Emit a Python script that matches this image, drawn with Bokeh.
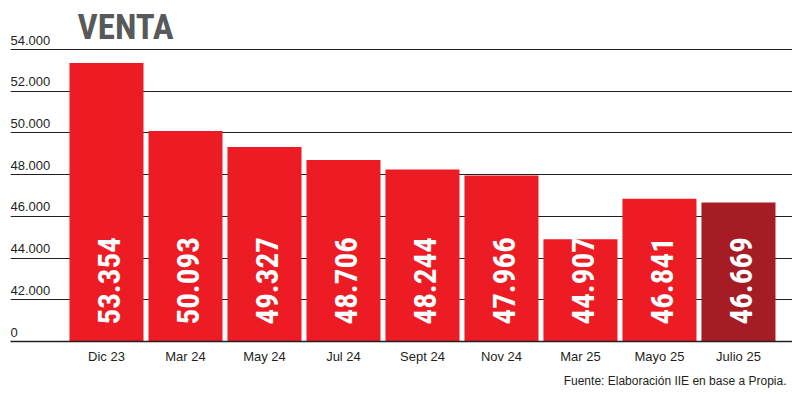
import numpy as np
from bokeh.plotting import figure
from bokeh.models import Range1d, FixedTicker, Label, Title
from bokeh.core.properties import value
from bokeh.embed import file_html
from bokeh.resources import INLINE

categories = ["Dic 23", "Mar 24", "May 24", "Jul 24", "Sept 24", "Nov 24", "Mar 25", "Mayo 25", "Julio 25"]
ventas = [53354, 50093, 49327, 48706, 48244, 47966, 44907, 46841, 46669]
value_labels = ["53.354", "50.093", "49.327", "48.706", "48.244", "47.966", "44.907", "46.841", "46.669"]
y_ticks = [40000, 42000, 44000, 46000, 48000, 50000, 52000, 54000]
y_tick_labels = ["0", "42.000", "44.000", "46.000", "48.000", "50.000", "52.000", "54.000"]
bar_colors = ["#ed1c24"] * 8 + ["#a51c24"]

base = 40000
xs = np.arange(len(categories))
x_start, x_end = -1.215, 8.684

COND = "'Roboto Condensed', 'Open Sans Condensed', sans-serif"
SANS = "'Liberation Sans', Arial, sans-serif"

p = figure(width=792, height=394, output_backend="svg", toolbar_location=None,
           x_range=Range1d(x_start, x_end), y_range=Range1d(base, 55970),
           min_border_left=10, min_border_right=0, min_border_top=8, min_border_bottom=53,
           title=None)
p.outline_line_color = None

p.vbar(x=xs, top=ventas, bottom=base, width=0.937, fill_color=bar_colors, line_color=None)

p.yaxis.visible = False
p.yaxis.ticker = FixedTicker(ticks=y_ticks[1:])
p.ygrid.grid_line_color = "#231f20"
p.ygrid.grid_line_width = 1.2
p.xgrid.grid_line_color = None

p.xaxis.ticker = FixedTicker(ticks=list(xs))
p.xaxis.major_label_overrides = {int(i): c for i, c in zip(xs, categories)}
p.xaxis.major_tick_line_color = None
p.xaxis.minor_tick_line_color = None
p.xaxis.axis_line_color = "#231f20"
p.xaxis.axis_line_width = 1.5
p.xaxis.major_label_text_font = SANS
p.xaxis.major_label_text_font_size = "13px"
p.xaxis.major_label_text_color = "#231f20"
p.xaxis.major_label_standoff = 1

p.text(x=[x_start] * len(y_ticks), y=y_ticks, text=y_tick_labels,
       text_font=value(SANS), text_font_size="13px", text_color="#231f20",
       text_align="left", text_baseline="bottom", y_offset=-5)

p.text(x=xs, y=[base] * len(xs), text=value_labels, angle=np.pi / 2,
       text_font=value(COND), text_font_style="bold", text_font_size="31px",
       text_color="white", text_align="left", text_baseline="middle",
       x_offset=3, y_offset=-17)

title = Label(x=67, y=314, x_units="screen", y_units="screen", text="VENTA",
              text_font=COND, text_font_style="bold", text_font_size="35px",
              text_color="#58595b", text_baseline="alphabetic")
p.add_layout(title)

footer = Title(text="Fuente: Elaboración IIE en base a Propia.", align="right",
               text_font=SANS, text_font_size="12px", text_font_style="normal",
               text_color="#231f20", offset=6)
p.add_layout(footer, "below")

open("out.html", "w").write(file_html(p, INLINE))
